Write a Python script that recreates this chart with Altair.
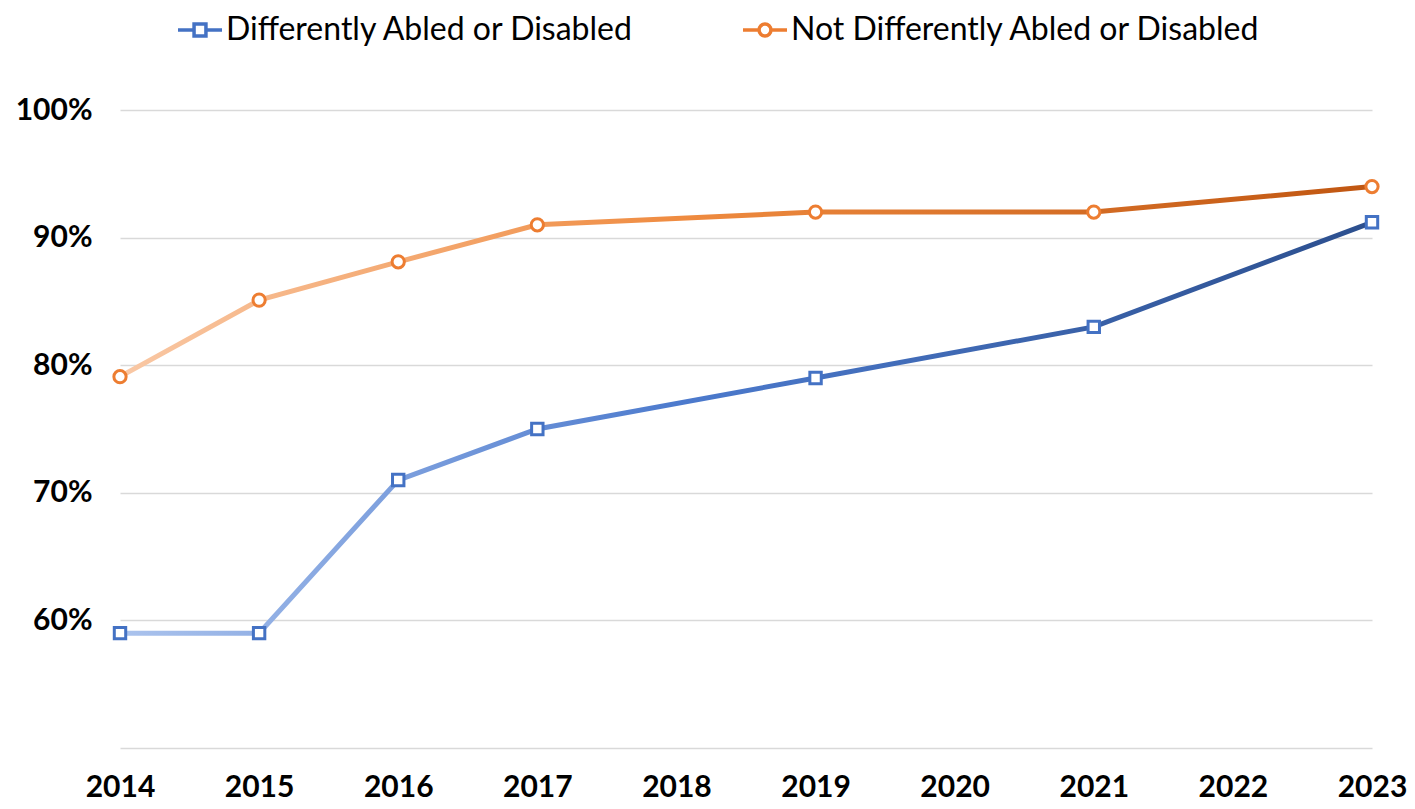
import altair as alt
import pandas as pd

years = [2014, 2015, 2016, 2017, 2019, 2021, 2023]
disabled = [59, 59, 71, 75, 79, 83, 91.2]
not_disabled = [79.1, 85.1, 88.1, 91, 92, 92, 94]
series_names = ["Differently Abled or Disabled", "Not Differently Abled or Disabled"]
y_ticks = [50, 60, 70, 80, 90, 100]
x_ticks = list(range(2014, 2024))

rows = []
for yr, v in zip(years, disabled):
    rows.append({"year": yr, "value": v, "series": series_names[0]})
for yr, v in zip(years, not_disabled):
    rows.append({"year": yr, "value": v, "series": series_names[1]})
df = pd.DataFrame(rows)

FONT = "Lato"
BLUE = "#4472c4"
ORANGE = "#ed7d31"

x_enc = alt.X("year:Q", scale=alt.Scale(domain=[2014, 2023], nice=False, zero=False),
              axis=alt.Axis(values=x_ticks, format="d", title=None, grid=False, domain=False,
                            ticks=False, labelFont=FONT, labelFontSize=30, labelFontWeight="bold",
                            labelColor="#000000", labelPadding=24, labelFlush=False))
y_enc = alt.Y("value:Q", scale=alt.Scale(domain=[50, 100], nice=False, zero=False),
              axis=alt.Axis(values=y_ticks, title=None, domain=False, ticks=False,
                            labelExpr="datum.value == 50 ? '' : datum.value + '%'",
                            labelFont=FONT, labelFontSize=30, labelFontWeight="bold",
                            labelColor="#000000", labelPadding=28,
                            gridColor="#d9d9d9", gridWidth=1.5))

blue_grad = alt.LinearGradient(gradient="linear", x1=0, x2=1, y1=0, y2=0, stops=[
    alt.GradientStop(offset=0, color="#abc3ed"),
    alt.GradientStop(offset=0.45, color="#4c7acd"),
    alt.GradientStop(offset=1, color="#2c4f8e")])
orange_grad = alt.LinearGradient(gradient="linear", x1=0, x2=1, y1=0, y2=0, stops=[
    alt.GradientStop(offset=0, color="#f9c8a5"),
    alt.GradientStop(offset=0.45, color="#ef8b40"),
    alt.GradientStop(offset=1, color="#c05611")])

base = alt.Chart(df)
blue_data = base.transform_filter(alt.datum.series == series_names[0])
orange_data = base.transform_filter(alt.datum.series == series_names[1])

line_blue = blue_data.mark_line(stroke=blue_grad, strokeWidth=5).encode(x=x_enc, y=y_enc)
line_orange = orange_data.mark_line(stroke=orange_grad, strokeWidth=5).encode(x=x_enc, y=y_enc)

pts_blue = blue_data.mark_point(shape="square", filled=False, fill="white", stroke=BLUE,
                                strokeWidth=3, size=130, opacity=1).encode(x=x_enc, y=y_enc)
pts_orange = orange_data.mark_point(shape="circle", filled=False, fill="white", stroke=ORANGE,
                                    strokeWidth=3, size=150, opacity=1).encode(x=x_enc, y=y_enc)

sq_path = "M-1,0L-0.27,0M-0.27,-0.27L0.27,-0.27L0.27,0.27L-0.27,0.27ZM0.27,0L1,0"
ci_path = "M-1,0L-0.27,0M0.27,0A0.27,0.27 0 1,1 -0.27,0A0.27,0.27 0 1,1 0.27,0M0.27,0L1,0"

def make_legend():
    return alt.Legend(title=None, orient="none", direction="horizontal",
                      legendX=56, legendY=-104,
                      labelFont=FONT, labelFontSize=32, labelColor="#000000",
                      labelOffset=2, columnPadding=101, symbolSize=1936,
                      labelLimit=700, symbolFillColor="white",
                      symbolStrokeWidth=3.5, symbolOpacity=1)

legend_layer = base.transform_filter("false").mark_point(filled=False, strokeWidth=3.5, opacity=1).encode(
    x=x_enc, y=y_enc,
    stroke=alt.Stroke("series:N", scale=alt.Scale(domain=series_names, range=[BLUE, ORANGE]),
                      legend=make_legend()),
    shape=alt.Shape("series:N", scale=alt.Scale(domain=series_names, range=[sq_path, ci_path]),
                    legend=make_legend()),
)

chart = alt.layer(line_blue, line_orange, pts_blue, pts_orange, legend_layer).properties(
    width=1252, height=638,
    autosize=alt.AutoSizeParams(type="none"),
    padding={"left": 112, "top": 102, "right": 35, "bottom": 53},
).configure(background="white").configure_view(stroke=None)

chart.save("out.html", embed_options={"renderer": "svg", "actions": False})
